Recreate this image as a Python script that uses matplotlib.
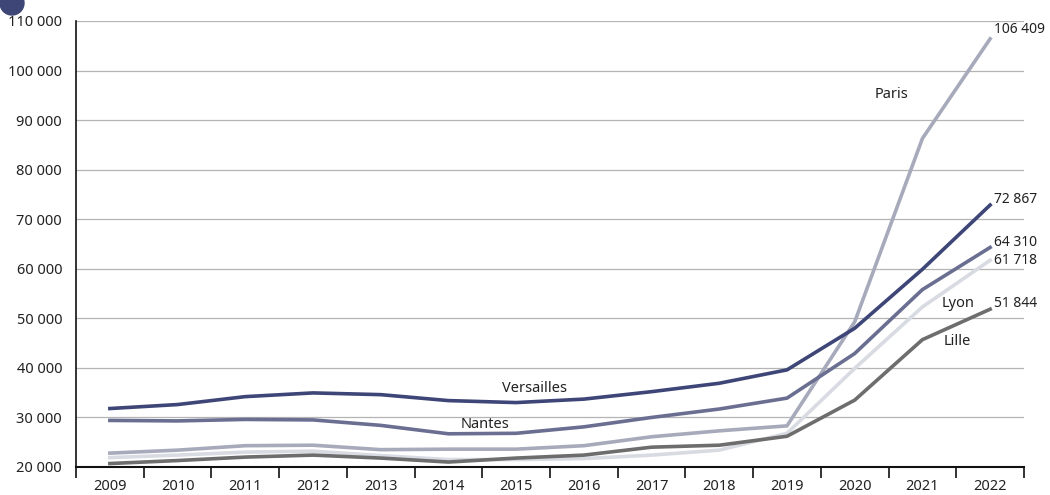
import numpy as np
import matplotlib.pyplot as plt
from matplotlib.patches import Circle

annees = [str(a) for a in range(2009, 2023)]

versailles = [31800, 32600, 34200, 34950, 34600, 33400, 33000, 33700, 35200, 36900, 39600, 48000, 59900, 72867]
nantes = [29400, 29300, 29600, 29500, 28400, 26700, 26800, 28100, 30000, 31700, 33900, 42900, 55800, 64310]
paris = [22800, 23400, 24300, 24400, 23500, 23600, 23600, 24300, 26100, 27300, 28300, 49300, 86300, 106409]
lyon = [21900, 22400, 23000, 23200, 22300, 21500, 21500, 21700, 22400, 23400, 26800, 39900, 52300, 61718]
lille = [20700, 21300, 22000, 22400, 21800, 21000, 21800, 22400, 24000, 24400, 26200, 33500, 45700, 51844]

series = [
    ("Paris", paris, "#a7aabb"),
    ("Lyon", lyon, "#d9dbe3"),
    ("Lille", lille, "#6d6d6d"),
    ("Nantes", nantes, "#6a6f92"),
    ("Versailles", versailles, "#3e4677"),
]

plt.rcParams['font.family'] = ['Noto Sans', 'DejaVu Sans']

fig = plt.figure(figsize=(10.5, 4.95), dpi=100)
ax = fig.add_axes([76/1050, 1 - 467/495, 948/1050, 446/495])

x = np.arange(len(annees))
for nom, valeurs, couleur in series:
    ax.plot(x, valeurs, color=couleur, lw=2.6, zorder=3)

ax.set_xlim(-0.5, len(annees) - 0.5)
ax.set_ylim(20000, 110000)
ax.set_yticks(range(20000, 110001, 10000))
ax.set_yticklabels([f"{v // 1000} 000" for v in range(20000, 110001, 10000)])
ax.yaxis.grid(True, color="#b4b4b4", lw=0.9)
ax.set_axisbelow(True)
ax.tick_params(axis='y', length=0, pad=10, labelsize=10.5, colors="#222222")

# graduations entre les annees
ax.set_xticks(np.arange(-0.5, len(annees)))
ax.set_xticklabels([])
ax.set_xticks(x, minor=True)
ax.set_xticklabels(annees, minor=True)
ax.tick_params(axis='x', which='major', length=8, width=1.2, direction='out', color="#111111")
ax.tick_params(axis='x', which='minor', length=0, pad=9, labelsize=10.5, colors="#222222")

for s in ['top', 'right']:
    ax.spines[s].set_visible(False)
ax.spines['left'].set_color("#111111")
ax.spines['left'].set_linewidth(1.2)
ax.spines['bottom'].set_color("#111111")
ax.spines['bottom'].set_linewidth(1.5)

# noms des academies
txt = dict(ha='center', va='center', fontsize=10.5, color="#222222")
ax.text(11.54, 95100, "Paris", **txt)
ax.text(6.27, 35900, "Versailles", **txt)
ax.text(5.54, 28600, "Nantes", **txt)
ax.text(12.53, 52900, "Lyon", **txt)
ax.text(12.51, 45400, "Lille", **txt)

# valeurs 2022
decalages = {"Paris": 9, "Versailles": 6, "Nantes": 5, "Lyon": 0, "Lille": 6}
for nom, valeurs, couleur in series:
    v = valeurs[-1]
    ax.annotate(f"{v:,}".replace(",", " "), (x[-1], v), xytext=(4, decalages[nom]),
                textcoords='offset pixels', ha='left', va='center', fontsize=10,
                color="#222222", annotation_clip=False)

# pastille du titre (coupee en haut)
fig.patches.append(Circle((12, 492), 12, transform=None, color="#3e4677"))

fig.savefig("out.png", dpi=100)
